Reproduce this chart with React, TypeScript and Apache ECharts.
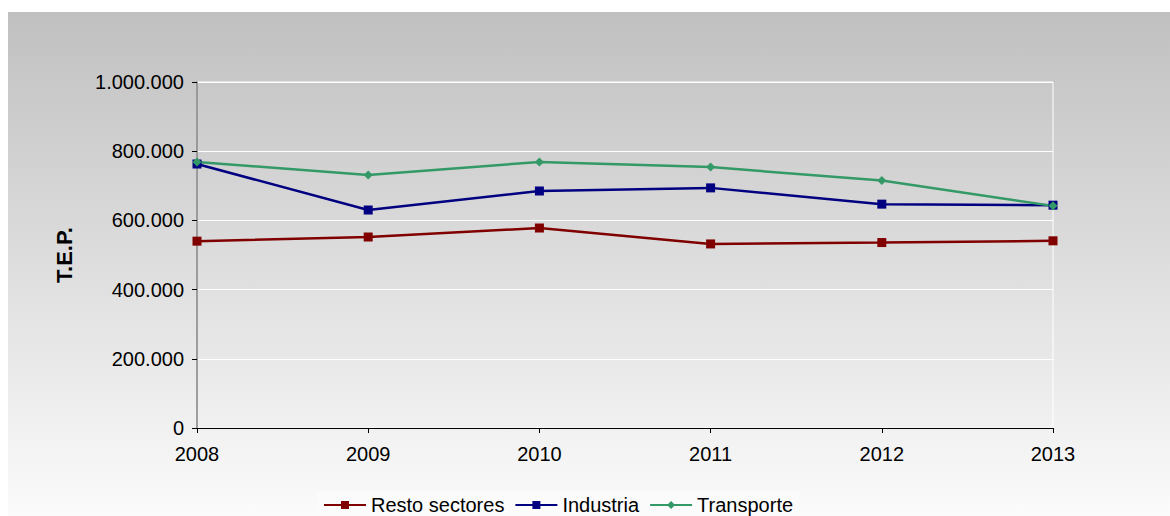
import React, { useEffect, useRef } from "react";
import * as echarts from "echarts";

const years = ["2008", "2009", "2010", "2011", "2012", "2013"];
const resto = [540000, 552000, 578000, 532000, 536000, 541000];
const industria = [763000, 630000, 685000, 694000, 647000, 644000];
const transporte = [769000, 731000, 769000, 754000, 715000, 642000];

const fmt = (v: number) => String(Math.round(v)).replace(/\B(?=(\d{3})+(?!\d))/g, ".");

export default function App() {
  const ref = useRef<HTMLDivElement>(null);
  useEffect(() => {
    document.body.style.margin = "0";
    const chart = echarts.init(ref.current!, undefined, { renderer: "svg" });
    const font = "Liberation Sans, Arial, sans-serif";
    const mk = (name: string, data: number[], color: string, symbol: string, size: number) => ({
      name,
      type: "line",
      data,
      symbol,
      symbolSize: size,
      showSymbol: true,
      lineStyle: { color, width: 2.5 },
      itemStyle: { color, borderWidth: 0 },
    });
    chart.setOption({
      animation: false,
      backgroundColor: "#fff",
      textStyle: { fontFamily: font },
      graphic: [
        {
          type: "rect",
          silent: true,
          z: -10,
          shape: { x: 8, y: 12, width: 1162, height: 504 },
          style: {
            fill: new echarts.graphic.LinearGradient(0, 0, 0, 1, [
              { offset: 0, color: "#c0c0c0" },
              { offset: 1, color: "#fbfbfb" },
            ]),
          },
        },
        {
          type: "text",
          rotation: Math.PI / 2,
          x: 64,
          y: 255,
          style: {
            text: "T.E.P.",
            font: "bold 22px Liberation Sans, Arial, sans-serif",
            fill: "#000",
            align: "center",
            verticalAlign: "middle",
          },
        },
      ],
      grid: { left: 197, right: 117, top: 82, bottom: 88, show: true, borderColor: "#ffffff", borderWidth: 1, backgroundColor: "transparent" },
      legend: {
        bottom: 0,
        left: 317,
        padding: [4, 6, 1, 6],
        backgroundColor: "#fbfbfb",
        itemWidth: 42,
        itemHeight: 10,
        itemGap: 10,
        textStyle: { fontSize: 20, color: "#000", fontFamily: font },
        data: ["Resto sectores", "Industria", "Transporte"],
      },
      xAxis: {
        type: "category",
        data: years,
        boundaryGap: false,
        axisLine: { lineStyle: { color: "#000", width: 1 } },
        axisTick: { show: true, length: 5, lineStyle: { color: "#000" }, alignWithLabel: true },
        axisLabel: { fontSize: 20, color: "#000", margin: 16, fontFamily: font },
        splitLine: { show: false },
      },
      yAxis: {
        type: "value",
        min: 0,
        max: 1000000,
        interval: 200000,
        axisLine: { show: true, lineStyle: { color: "#808080", width: 1.5 } },
        axisTick: { show: true, length: 5, lineStyle: { color: "#000" } },
        axisLabel: { fontSize: 20, color: "#000", margin: 13, formatter: fmt, fontFamily: font },
        splitLine: { show: true, lineStyle: { color: "#ffffff", width: 1 } },
      },
      series: [
        mk("Resto sectores", resto, "#800000", "rect", 9),
        mk("Industria", industria, "#000080", "rect", 9),
        mk("Transporte", transporte, "#339966", "diamond", 9),
      ],
    });
    return () => chart.dispose();
  }, []);
  return <div ref={ref} style={{ width: 1170, height: 516 }} />;
}
